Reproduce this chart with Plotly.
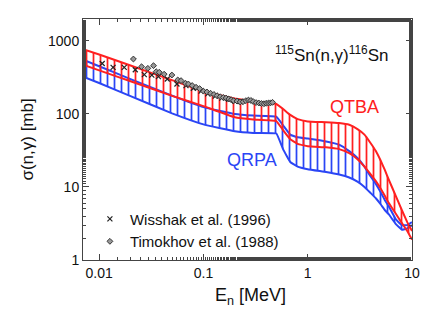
import plotly.graph_objects as go
import numpy as np

# ---- data ----
energy = [0.007, 0.01, 0.02, 0.05, 0.1, 0.2, 0.3, 0.5, 0.58, 0.68, 0.8, 1.0, 1.5, 2.0,
          2.5, 3.0, 3.5, 4.0, 4.5, 5.0, 5.5, 6.0, 7.0, 8.0, 9.0, 10.0]
qtba_hi = [770, 650, 460, 290, 205, 163, 148, 137, 117, 97, 85, 79, 77, 75,
           71, 62, 52, 40, 31, 23, 17, 12.5, 7.5, 4.8, 3.3, 2.5]
qtba_lo = [472, 395, 280, 177, 128, 90, 84, 80, 60, 45, 39, 36, 35, 33,
           29, 24, 19, 15, 12, 9.5, 7.5, 6.0, 4.3, 3.2, 2.5, 1.9]
qrpa_hi = [555, 450, 300, 178, 124, 100, 95, 92, 70, 52, 48, 46, 42, 38,
           31, 25, 19, 14, 11, 8.5, 6.6, 5.4, 3.6, 3.0, 3.0, 3.3]
qrpa_lo = [325, 265, 175, 102, 72, 58, 55, 54, 33, 22, 19, 17.5, 16, 14.8,
           13.5, 11.8, 10.0, 8.3, 7.0, 5.8, 4.8, 4.2, 3.1, 2.6, 2.7, 3.0]

wisshak_e = [0.0107, 0.0136, 0.0174, 0.0222, 0.0271, 0.032, 0.037, 0.045, 0.0557, 0.068,
             0.08, 0.095, 0.11, 0.13, 0.15, 0.175, 0.2, 0.225]
wisshak_s = [490, 434, 434, 403, 345, 340, 324, 301, 257, 244,
             225, 205, 188, 175, 165, 158, 150, 148]

timokhov_e = [0.0213, 0.0255, 0.0293, 0.0332, 0.0352, 0.0377, 0.042, 0.0498, 0.0567, 0.061,
              0.0673, 0.0717, 0.078, 0.085, 0.092, 0.1, 0.108, 0.117, 0.126, 0.135,
              0.145, 0.155, 0.165, 0.175, 0.185, 0.195, 0.21, 0.225, 0.24, 0.255,
              0.27, 0.285, 0.3, 0.32, 0.34, 0.36, 0.38, 0.4, 0.42, 0.44, 0.46]
timokhov_s = [565, 443, 421, 458, 379, 372, 350, 341, 292, 286,
              263, 257, 245, 232, 222, 205, 200, 192, 185, 178,
              172, 168, 165, 160, 156, 152, 150, 146, 147, 152,
              155, 153, 148, 143, 141, 139, 138, 140, 141, 142, 144]

x_ticks = [0.01, 0.1, 1, 10]
x_ticklabels = ["0.01", "0.1", "1", "10"]
y_ticks = [1, 10, 100, 1000]
y_ticklabels = ["1", "10", "100", "1000"]

RED = "#ff2020"
BLUE = "#2a45f5"
FONT = "Liberation Sans, Arial, Helvetica, sans-serif"

fig = go.Figure()

def band(lo, hi, color):
    fig.add_trace(go.Scatter(x=energy, y=lo, mode="lines",
                             line=dict(color=color, width=2, shape="spline", smoothing=0.25),
                             showlegend=False, hoverinfo="skip"))
    fig.add_trace(go.Scatter(x=energy, y=hi, mode="lines", fill="tonexty",
                             fillcolor="rgba(0,0,0,0)",
                             fillpattern=dict(shape="|", size=7, solidity=0.25,
                                              fgcolor=color, bgcolor="rgba(0,0,0,0)",
                                              fillmode="replace"),
                             line=dict(color=color, width=2, shape="spline", smoothing=0.25),
                             showlegend=False, hoverinfo="skip"))

band(qrpa_lo, qrpa_hi, BLUE)
band(qtba_lo, qtba_hi, RED)

fig.add_trace(go.Scatter(x=wisshak_e, y=wisshak_s, mode="markers", name="Wisshak et al. (1996)",
                         marker=dict(symbol="x-thin-open", size=5, color="#222",
                                     line=dict(color="#222", width=1.2))))
fig.add_trace(go.Scatter(x=timokhov_e, y=timokhov_s, mode="markers", name="Timokhov et al. (1988)",
                         marker=dict(symbol="diamond", size=4.5, color="#999",
                                     line=dict(color="#333", width=1))))

axis_common = dict(type="log", showline=True, linecolor="#444", linewidth=1,
                   mirror="allticks", ticks="inside", ticklen=6, tickcolor="#444",
                   showgrid=False, zeroline=False, automargin=False,
                   tickfont=dict(family=FONT, size=14, color="#111"),
                   minor=dict(ticks="inside", ticklen=3, tickcolor="#444", showgrid=False))

fig.update_xaxes(**axis_common, range=[np.log10(0.007), 1],
                 tickvals=x_ticks, ticktext=x_ticklabels)
fig.update_yaxes(**axis_common, range=[0, 3.3],
                 tickvals=y_ticks, ticktext=y_ticklabels)

def note(x, y, text, size, color, angle=0):
    fig.add_annotation(x=x, y=y, xref="paper", yref="paper", showarrow=False,
                       xanchor="center", yanchor="middle", text=text, textangle=angle,
                       font=dict(family=FONT, size=size, color=color))

note(0.756, 0.855, "<sup>115</sup>Sn(n,γ)<sup>116</sup>Sn", 17, "#111")
note(0.824, 0.635, "QTBA", 18, RED)
note(0.514, 0.417, "QRPA", 18, BLUE)
note(-0.170, 0.5, "σ(n,γ) [mb]", 17, "#111", angle=-90)
note(0.508, -0.150, "E<sub>n</sub> [MeV]", 18, "#111")

# the page body adds an 8px offset; the figure is sized to compensate
fig.update_layout(width=428, height=305, margin=dict(l=75, r=24, t=11, b=53),
                  paper_bgcolor="white", plot_bgcolor="white",
                  legend=dict(x=0.021, y=0.01, xanchor="left", yanchor="bottom",
                              bgcolor="rgba(0,0,0,0)", borderwidth=0, traceorder="normal",
                              font=dict(family=FONT, size=15, color="#111"),
                              itemwidth=30, tracegroupgap=0))

fig.write_html("out.html")
